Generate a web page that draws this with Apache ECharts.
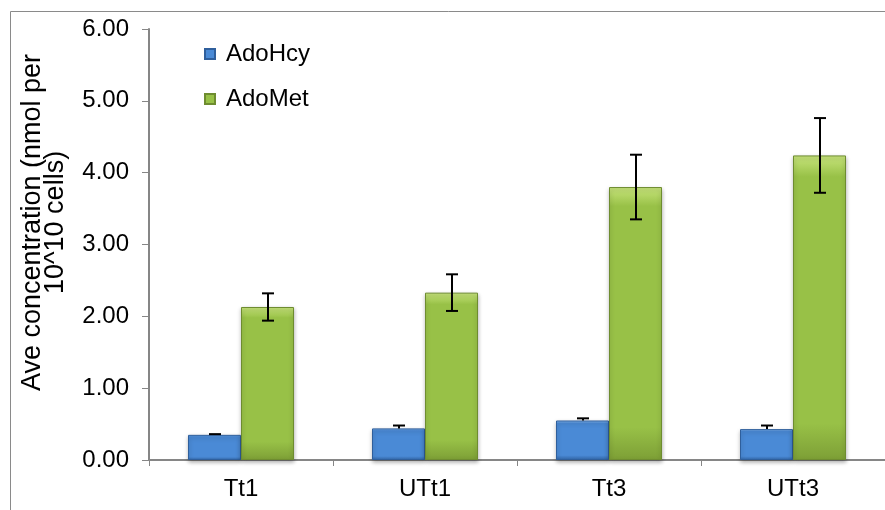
<!DOCTYPE html>
<html>
<head>
<meta charset="utf-8">
<script src="https://cdn.jsdelivr.net/npm/echarts@6/dist/echarts.min.js"></script>
<style>
  html, body { margin: 0; padding: 0; background: #fff; }
  #chart { width: 885px; height: 510px; }
</style>
</head>
<body>
<div id="chart"></div>
<script>
// data
var categories = ['Tt1', 'UTt1', 'Tt3', 'UTt3'];
var adoHcy = [0.35, 0.44, 0.55, 0.43];
var adoHcyErr = [0.01, 0.04, 0.03, 0.05];
var adoMet = [2.13, 2.33, 3.80, 4.24];
var adoMetErr = [0.19, 0.255, 0.45, 0.52];
var yTicks = [0, 1, 2, 3, 4, 5, 6];

var barW = 53;
var font = 'Liberation Sans, Arial, sans-serif';

function errData(vals, errs) {
    return vals.map(function (v, i) { return [i, v, errs[i]]; });
}

// vertical error bar with caps, shifted onto its bar
function errRenderer(side, plusOnly) {
    return function (params, api) {
        var i = api.value(0), v = api.value(1), e = api.value(2);
        var top = api.coord([i, v + e]);
        var bot = api.coord([i, plusOnly ? v : v - e]);
        var x = Math.round(top[0] + side * barW / 2);
        var cap = 6;
        var style = { stroke: '#000', lineWidth: 2 };
        var kids = [
            { type: 'line', shape: { x1: x, y1: top[1], x2: x, y2: bot[1] }, style: style },
            { type: 'line', shape: { x1: x - cap, y1: top[1], x2: x + cap, y2: top[1] }, style: style }
        ];
        if (!plusOnly) {
            kids.push({ type: 'line', shape: { x1: x - cap, y1: bot[1], x2: x + cap, y2: bot[1] }, style: style });
        }
        return { type: 'group', children: kids };
    };
}

function bevel(light, mid, dark) {
    return new echarts.graphic.LinearGradient(0, 0, 0, 1, [
        { offset: 0, color: light },
        { offset: 0.07, color: mid },
        { offset: 0.88, color: mid },
        { offset: 1, color: dark }
    ]);
}

var myChart = echarts.init(document.getElementById('chart'));

var option = {
    animation: false,
    textStyle: { fontFamily: font },
    graphic: [{
        type: 'rect',
        shape: { x: 10.5, y: 11.5, width: 1000, height: 1000 },
        style: { fill: 'none', stroke: '#8a8a8a', lineWidth: 1 },
        silent: true
    }],
    legend: {
        orient: 'vertical',
        left: 199,
        top: 37,
        icon: 'rect',
        itemWidth: 10,
        itemHeight: 10,
        itemGap: 21,
        data: ['AdoHcy', 'AdoMet'],
        textStyle: { fontSize: 24, color: '#000', fontFamily: font, padding: [0, 0, 0, 6] }
    },
    grid: {
        left: 149,
        right: -3,
        top: 29,
        bottom: 50
    },
    xAxis: {
        type: 'category',
        data: categories,
        axisLine: { lineStyle: { color: '#868686', width: 2 } },
        axisTick: { show: true, length: 6, alignWithLabel: false, lineStyle: { color: '#868686' } },
        axisLabel: { fontSize: 24, color: '#000', margin: 17, fontFamily: font }
    },
    yAxis: {
        type: 'value',
        min: yTicks[0],
        max: yTicks[yTicks.length - 1],
        interval: 1,
        name: 'Ave concentration (nmol per\n10^10 cells)',
        nameLocation: 'middle',
        nameGap: 82,
        nameTextStyle: {
            fontSize: 27, color: '#000', fontFamily: font, lineHeight: 23,
            padding: [0, 0, 0, 44]
        },
        splitLine: { show: false },
        axisLine: { show: true, lineStyle: { color: '#868686', width: 2 } },
        axisTick: { show: true, length: 7, lineStyle: { color: '#868686' } },
        axisLabel: {
            fontSize: 24, color: '#000', margin: 20, fontFamily: font,
            formatter: function (v) { return v.toFixed(2); }
        }
    },
    series: [{
        name: 'AdoHcy',
        type: 'bar',
        data: adoHcy,
        barWidth: barW,
        barGap: '0%',
        itemStyle: {
            color: bevel('#8dbdf2', '#4a8ad6', '#3266a8'),
            borderColor: '#2f5f9c',
            borderWidth: 1,
            shadowBlur: 4,
            shadowOffsetY: 2,
            shadowColor: 'rgba(0,0,0,0.3)'
        }
    }, {
        name: 'AdoMet',
        type: 'bar',
        data: adoMet,
        barWidth: barW,
        barGap: '0%',
        itemStyle: {
            color: bevel('#c8e57c', '#98c147', '#7d9f36'),
            borderColor: '#6e8c30',
            borderWidth: 1,
            shadowBlur: 4,
            shadowOffsetY: 2,
            shadowColor: 'rgba(0,0,0,0.3)'
        }
    }, {
        type: 'custom',
        renderItem: errRenderer(-1, true),
        data: errData(adoHcy, adoHcyErr),
        z: 5,
        silent: true
    }, {
        type: 'custom',
        renderItem: errRenderer(1, false),
        data: errData(adoMet, adoMetErr),
        z: 5,
        silent: true
    }]
};

myChart.setOption(option);
</script>
</body>
</html>
